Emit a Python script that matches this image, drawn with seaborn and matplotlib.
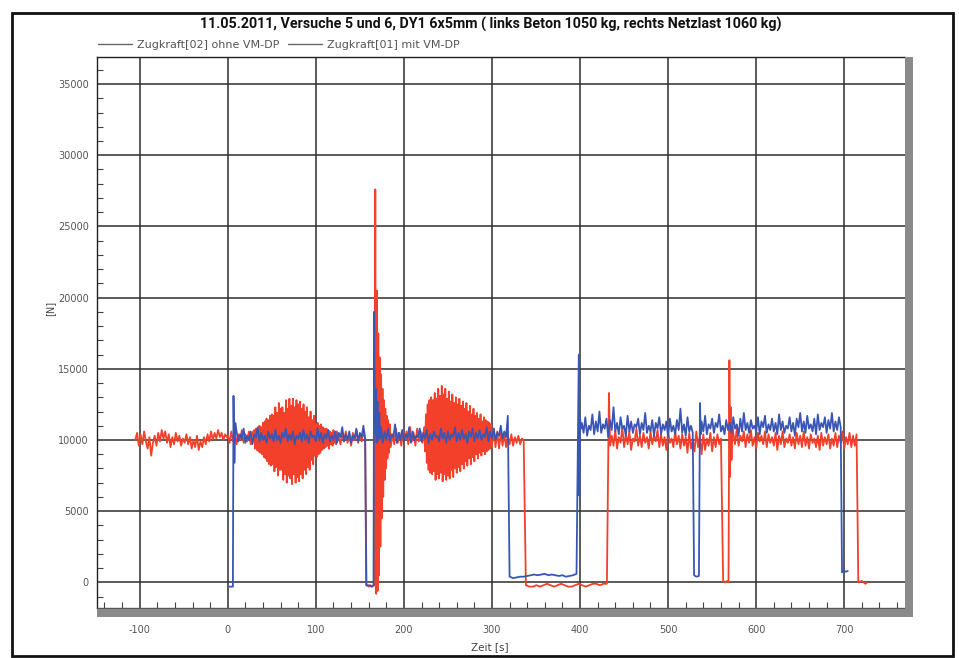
import numpy as np
import pandas as pd
import seaborn as sns
import matplotlib.pyplot as plt
from matplotlib.lines import Line2D
from matplotlib.patches import Rectangle
from matplotlib.ticker import MultipleLocator

# ---- data, force in kN (converted to N below) ----
# Zugkraft[02] ohne VM-DP (red)
red_pre = [10.0, 10.5, 9.6, 10.4, 9.7, 10.6, 9.9, 9.4, 10.2, 8.9,
           9.8, 10.3, 9.6, 10.5, 9.9, 10.7, 10.1, 10.6, 9.8, 10.4,
           9.5, 10.2, 9.7, 10.5, 9.9, 10.3, 9.6, 10.1, 9.8, 10.4,
           9.7, 10.2, 9.4, 10.0, 9.5, 10.3, 9.3, 9.9, 9.5, 10.2,
           9.7, 10.4, 9.9, 10.6, 10.0, 10.5, 10.1, 10.7, 10.2, 10.5,
           10.0, 10.4, 10.2]                                   # t=-105.., 2 s
red_a = [10.3, 9.8, 10.6, 9.9, 10.5, 9.7, 10.4, 10.0, 10.7, 9.8,
         10.4, 9.9, 10.6, 9.7, 10.5]                          # t=0.., 2 s
red_wave1 = [10.7, 9.4, 10.8, 9.3, 10.6, 9.2, 11.0, 9.1, 10.9, 9.0, 11.2,
             8.8, 11.3, 8.7, 11.5, 8.5, 11.4, 8.3, 11.7, 8.2, 11.8,
             8.3, 11.7, 7.8, 12.3, 8.1, 11.9, 7.5, 12.6, 7.9, 12.2,
             7.9, 12.3, 7.2, 11.9, 7.6, 12.8, 7.0, 12.2, 7.5, 12.9,
             7.3, 12.4, 6.9, 12.9, 7.6, 12.3, 7.0, 12.8, 7.4, 12.5,
             7.1, 12.7, 7.6, 12.2, 7.3, 12.5, 7.9, 12.0, 7.6, 12.3,
             8.1, 11.6, 7.9, 12.0, 8.6, 11.4, 8.3, 11.7, 8.9, 11.1,
             8.8, 11.2, 9.0, 11.0, 9.1, 11.1, 9.3, 10.9, 9.4, 10.8,
             9.5, 10.8, 9.6, 10.7, 9.4, 10.6, 9.7, 10.5, 9.6, 10.7,
             9.8, 10.4, 9.7, 10.6]                            # t=30.., 1 s
red_b = [10.2, 9.7, 10.5, 9.9, 10.6, 9.8, 10.4, 9.6, 10.5, 10.0,
         10.7, 9.8, 10.4, 9.9, 10.6, 10.1]                    # t=126.., 2 s
red_hit_t = [157.5, 160, 162, 164, 166.5, 167.5, 168.5, 169.3, 170.1, 170.9,
             171.7, 172.5, 173.3, 174.1, 174.9, 175.7, 176.5, 177.3, 178.1,
             178.9, 179.7, 180.5, 181.3, 182.1, 183, 184, 185]
red_hit_v = [-0.2, -0.3, -0.2, -0.3, -0.2, 27.6, -0.8, 20.5, -0.6, 17.5,
             0.5, 15.8, 2.5, 14.6, 4.5, 13.6, 6.0, 12.8, 7.2,
             12.2, 8.0, 11.7, 8.7, 11.4, 9.1, 11.1, 9.5]
red_c = [10.4, 9.7, 10.8, 9.8, 10.5, 9.6, 10.7, 10.0, 10.6, 9.7,
         10.9, 9.9, 10.5, 9.6, 10.8, 9.9, 10.6, 9.8]          # t=187.., 2 s
red_wave2 = [10.9, 9.2, 11.8, 8.4, 12.5, 7.9, 12.8, 7.7, 13.0, 7.6,
             12.8, 7.8, 13.3, 7.2, 12.9, 7.6, 13.6, 7.3, 13.1, 7.7,
             13.8, 7.1, 13.2, 7.6, 13.6, 7.2, 12.9, 7.5, 13.4, 7.3,
             12.7, 7.9, 13.2, 7.4, 12.6, 8.0, 13.0, 7.7, 12.5, 8.1,
             12.9, 7.8, 12.4, 8.3, 12.7, 8.0, 12.2, 8.5, 12.6, 8.2,
             12.0, 8.7, 12.4, 8.3, 11.8, 8.8, 12.2, 8.5, 11.7, 9.0,
             11.9, 8.7, 11.5, 9.1, 11.8, 8.9, 11.3, 9.2, 11.6, 9.0,
             11.4, 9.2, 11.3, 9.3, 11.2, 9.4, 11.1, 9.5]      # t=223.., 1 s
red_d = [10.8, 9.5, 10.6, 9.4, 10.5, 9.6, 10.4, 9.5, 10.3, 9.7,
         10.4, 9.6, 10.2, 9.8, 10.3, 9.7, 10.1, 10.0]         # t=302.., 2 s
red_low = [-0.2, -0.3, -0.3, -0.2, -0.3, -0.2, -0.1, -0.2, -0.3, -0.2,
           -0.1, -0.2, -0.3, -0.3, -0.2, -0.1, -0.2, -0.3, -0.2, -0.1,
           -0.1, -0.2, -0.1, -0.1]                           # t=338.5.., 4 s
red_up_t = [432.8, 434.2]
red_up_v = [13.3, 9.6]
red_e = [10.3, 9.6, 10.7, 9.4, 10.2, 9.8, 10.9, 9.5, 10.4, 9.7,
         10.6, 9.3, 10.1, 9.9, 10.8, 9.6, 10.3, 9.5, 10.5, 9.8,
         10.2, 9.4, 10.6, 9.7, 10.3, 9.9, 10.7, 9.5, 10.4, 9.6,
         10.2, 9.3, 10.5, 9.8, 10.1, 9.5, 10.6, 9.7, 10.3, 9.4,
         10.4, 9.6, 10.2, 9.1, 10.5, 9.4, 10.0, 9.2, 10.6, 9.5,
         10.3, 9.0, 10.4, 9.3, 10.1, 9.6, 10.5, 9.2, 10.2, 9.5,
         10.4, 9.7, 10.1]                                     # t=436.., 2 s
red_dip_t = [562.5, 565, 567, 568.6, 569.6, 570.3, 571, 572, 573]
red_dip_v = [0.1, 0.0, 0.1, 0.0, 15.6, 7.4, 12.3, 8.6, 11.0]
red_f = [10.5, 9.7, 10.8, 9.6, 10.3, 9.9, 10.6, 9.5, 10.4, 9.8,
         10.7, 9.6, 10.2, 9.4, 10.5, 9.9, 10.3, 9.7, 10.6, 9.5,
         10.4, 9.8, 10.2, 9.6, 10.5, 9.3, 10.3, 9.7, 10.6, 9.5,
         10.1, 9.8, 10.4, 9.6, 10.2, 9.4, 10.5, 9.7, 10.3, 9.5,
         10.6, 9.6, 10.2, 9.4, 10.4, 9.8, 10.1, 9.5, 10.3, 9.3,
         10.5, 9.6, 10.2, 9.7, 10.4, 9.4, 10.1, 9.6, 10.5, 9.5,
         10.3, 9.8, 10.6, 9.4, 10.2, 9.7, 10.5, 9.5, 10.3, 9.6,
         10.4]                                                # t=574.., 2 s
red_end_t = [716, 720, 724, 726]
red_end_v = [0.0, 0.1, -0.1, 0.0]

# Zugkraft[01] mit VM-DP (blue)
blue_start_t = [0, 3, 5.8, 6.5, 7.5, 8.5]
blue_start_v = [-0.3, -0.3, -0.3, 13.1, 8.4, 11.2]
blue_a = [10.6, 9.9, 10.4, 10.1, 10.8, 9.8, 10.3, 10.0, 10.6, 9.7,
          10.4, 10.2, 10.9, 9.9, 10.5, 10.0, 10.3, 9.8, 10.6, 10.1,
          10.4, 9.9, 10.7, 10.0, 10.3, 9.8, 10.5, 10.2, 10.8, 9.9,
          10.4, 10.0, 10.6, 9.7, 10.3, 10.1, 10.5, 9.9, 10.7, 10.0,
          10.4, 9.8, 10.6, 10.2, 10.3, 9.9, 10.8, 10.0, 10.5, 9.8,
          10.4, 10.1, 10.7, 9.9, 10.3, 10.0, 10.6, 9.8, 10.5, 10.2,
          10.9, 9.9, 10.4, 10.0, 10.6, 9.8, 10.3, 10.1, 10.8, 9.9,
          10.5, 10.2, 11.0, 10.1]                             # t=10.., 2 s
blue_hit_t = [157.2, 160, 163, 165.5, 166.2, 167, 168, 169, 170, 171, 172, 173]
blue_hit_v = [-0.2, -0.2, -0.3, -0.2, 19.0, 10.5, 13.6, 9.8, 12.7, 10.0, 11.9, 10.1]
blue_b = [10.9, 9.8, 10.6, 10.0, 10.8, 9.9, 10.4, 10.2, 11.1, 9.8,
          10.5, 10.0, 10.7, 9.9, 10.4, 10.1, 10.9, 9.8, 10.6, 10.0,
          10.3, 10.2, 10.8, 9.9, 10.5, 10.1, 10.7, 9.8, 10.4, 10.0,
          10.6, 10.2, 10.3, 9.9, 10.8, 10.1, 10.5, 9.8, 10.6, 10.0,
          10.4, 10.2, 10.9, 9.9, 10.5, 10.0, 10.7, 10.1, 10.4, 9.8,
          10.6, 10.2, 10.8, 9.9, 10.5, 10.1, 10.7, 10.0, 10.4, 10.2,
          10.9, 9.9, 10.6, 10.1, 10.8, 10.0, 10.5, 10.3, 11.0, 10.1,
          10.6, 10.2, 11.7]                                   # t=174.., 2 s
blue_low = [0.4, 0.3, 0.35, 0.4, 0.4, 0.45, 0.5, 0.55, 0.5, 0.55,
            0.6, 0.5, 0.55, 0.5, 0.45, 0.5, 0.4, 0.45, 0.5, 0.6]   # t=320.., 4 s
blue_up_t = [398.6, 399.2, 400.0, 401.0]
blue_up_v = [16.0, 6.1, 11.6, 10.8]
blue_c = [11.2, 10.5, 11.6, 10.3, 11.0, 10.7, 11.8, 10.4, 11.3, 10.6,
          12.0, 10.5, 11.1, 10.8, 11.5, 10.2, 11.4, 10.7, 12.3, 10.6,
          11.2, 10.4, 11.6, 10.8, 11.0, 10.3, 11.7, 10.6, 11.3, 10.5,
          11.1, 10.9, 11.5, 10.4, 11.2, 10.7, 11.9, 10.5, 11.0, 10.6,
          11.4, 10.3, 11.2, 10.8, 11.6, 10.4, 11.1, 10.7, 11.3, 10.2,
          11.5, 10.6, 11.0, 10.4, 11.4, 10.7, 12.2, 10.5, 11.1, 10.3,
          11.6, 10.6, 11.0, 10.5]                             # t=402.., 2 s
blue_dip_t = [529.5, 532, 535, 536.2, 537]
blue_dip_v = [0.5, 0.4, 0.45, 12.6, 10.4]
blue_d = [11.3, 10.6, 11.7, 10.4, 11.1, 10.8, 11.5, 10.5, 11.2, 10.9,
          11.8, 10.6, 11.0, 10.4, 11.4, 10.7, 11.2, 10.5, 11.6, 10.8,
          11.1, 10.3, 11.5, 10.6, 11.9, 10.7, 11.2, 10.5, 11.4, 10.8,
          11.0, 10.6, 11.6, 10.4, 11.3, 10.9, 11.7, 10.5, 11.1, 10.7,
          11.5, 10.6, 11.2, 10.4, 11.8, 10.7, 11.3, 10.5, 11.0, 10.8,
          11.6, 10.6, 11.2, 10.3, 11.5, 10.9, 11.9, 10.6, 11.3, 10.5,
          11.7, 10.8, 11.1, 10.6, 11.5, 10.4, 11.8, 10.7, 11.2, 10.9,
          11.6, 10.5, 11.4, 10.8, 11.9, 10.6, 11.3, 10.7, 11.6, 10.9]   # t=538.., 2 s
blue_end_t = [697.5, 700, 702, 704]
blue_end_v = [0.7, 0.8, 0.75, 0.8]

labels = ["Zugkraft[02] ohne VM-DP", "Zugkraft[01] mit VM-DP"]
colors = ["#f2402a", "#3a56b4"]


def reg(start, step, vals):
    return list(start + step * np.arange(len(vals))), list(vals)


red_parts = [reg(-105, 2, red_pre), reg(0, 2, red_a), reg(30, 1, red_wave1),
             reg(126, 2, red_b), (red_hit_t, red_hit_v), reg(187, 2, red_c),
             reg(223, 1, red_wave2), reg(302, 2, red_d), reg(338.5, 4, red_low),
             (red_up_t, red_up_v), reg(436, 2, red_e), (red_dip_t, red_dip_v),
             reg(574, 2, red_f), (red_end_t, red_end_v)]
blue_parts = [(blue_start_t, blue_start_v), reg(10, 2, blue_a),
              (blue_hit_t, blue_hit_v), reg(174, 2, blue_b), reg(320, 4, blue_low),
              (blue_up_t, blue_up_v), reg(402, 2, blue_c), (blue_dip_t, blue_dip_v),
              reg(538, 2, blue_d), (blue_end_t, blue_end_v)]

frames = []
for name, parts in zip(labels, [red_parts, blue_parts]):
    t = np.concatenate([p[0] for p in parts])
    v = np.concatenate([p[1] for p in parts]) * 1000
    frames.append(pd.DataFrame({"Zeit": t, "Kraft": v, "Kanal": name}))
df = pd.concat(frames, ignore_index=True)

# ---- figure ----
sns.set_style("white")
plt.rcParams["font.family"] = ["DejaVu Sans"]
plt.rcParams["axes.unicode_minus"] = False

W, H = 959, 658
fig = plt.figure(figsize=(W / 100, H / 100), dpi=100)


def fx(px):
    return px / W


def fy(py):
    return 1 - py / H


L, R, T, B = 97, 905, 57, 608
ax = fig.add_axes([fx(L), fy(B), fx(R) - fx(L), fy(T) - fy(B)])

sns.lineplot(data=df, x="Zeit", y="Kraft", hue="Kanal", hue_order=labels,
             palette=dict(zip(labels, colors)), estimator=None, sort=False,
             lw=1.3, legend=False, ax=ax)

ax.set_xlim(-148.5, 769)
ax.set_ylim(-1800, 36900)
ax.set_xticks(range(-100, 701, 100))
ax.set_yticks(range(0, 35001, 5000))
ax.xaxis.set_minor_locator(MultipleLocator(20))
ax.yaxis.set_minor_locator(MultipleLocator(1000))
ax.grid(True, which="major", color="#2e2e2e", lw=1.1)
ax.set_axisbelow(True)

ax.tick_params(axis="y", which="major", direction="out", length=5, width=0.8,
               color="#444444", labelsize=7, labelcolor="#555555", pad=1)
ax.tick_params(axis="y", which="minor", direction="in", length=4, width=0.8,
               color="#444444", left=True)
ax.tick_params(axis="x", which="major", direction="in", length=6, width=0.8,
               color="#444444", labelsize=7, labelcolor="#555555", pad=12)
ax.tick_params(axis="x", which="minor", direction="in", length=4, width=0.8,
               color="#444444", bottom=True)

for side in ["left", "top"]:
    ax.spines[side].set_color("#222222")
    ax.spines[side].set_linewidth(1.0)
ax.spines["bottom"].set_color("#555555")
ax.spines["bottom"].set_linewidth(1.0)
ax.spines["right"].set_visible(False)

ax.set_xlabel("Zeit [s]", fontsize=7.5, color="#444444")
ax.xaxis.set_label_coords(0.486, -0.061)
ax.set_ylabel("[N]", fontsize=7, color="#444444")
ax.yaxis.set_label_coords(-0.052, 0.543)

# grey shadow bars under and right of the plot
fig.add_artist(Rectangle((fx(L), fy(617)), fx(913) - fx(L), fy(609) - fy(617),
                         transform=fig.transFigure, color="#8a8a8a", lw=0))
fig.add_artist(Rectangle((fx(R), fy(617)), fx(913) - fx(R), fy(T) - fy(617),
                         transform=fig.transFigure, color="#8a8a8a", lw=0))

# outer frame
fig.add_artist(Rectangle((fx(12), fy(656)), fx(953) - fx(12), fy(13) - fy(656),
                         transform=fig.transFigure, fill=False, ec="#111111", lw=2))

fig.text(fx(491), fy(24), "11.05.2011, Versuche 5 und 6, DY1 6x5mm ( links Beton 1050 kg, rechts Netzlast 1060 kg)",
         ha="center", va="center", fontsize=10.3, fontweight="bold",
         family=["Roboto", "DejaVu Sans"], color="#111111")

handles = [Line2D([], [], color="#666666", lw=1.0) for _ in labels]
ax.legend(handles, labels, loc="center left", bbox_to_anchor=(-0.004, 1.022),
          ncol=2, frameon=False, fontsize=8, handlelength=3.0, handletextpad=0.5,
          columnspacing=0.8, borderaxespad=0, labelcolor="#555555")

fig.savefig("out.png", dpi=100, facecolor="white")
